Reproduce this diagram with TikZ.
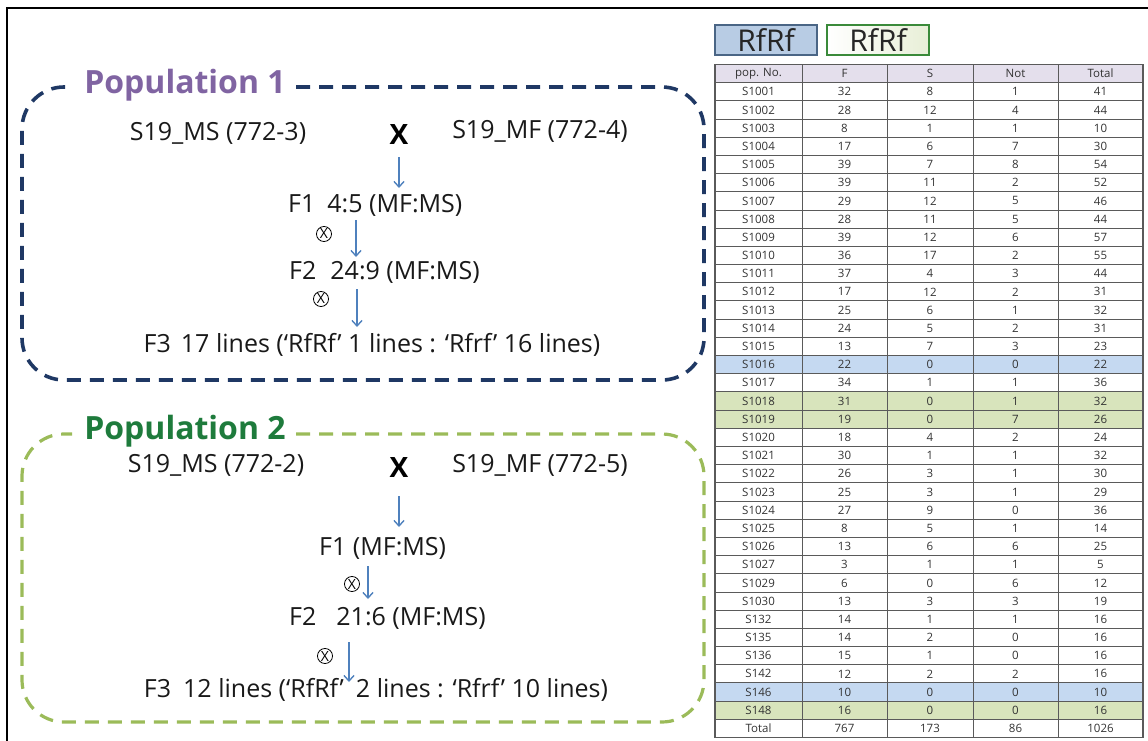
\documentclass[tikz,border=0pt]{standalone}
\usepackage{fontspec}
\setmainfont{Open Sans}
\usetikzlibrary{arrows.meta,calc}
\definecolor{navy}{HTML}{1F3864}
\definecolor{olive}{HTML}{9BBB59}
\definecolor{purp}{HTML}{8064A2}
\definecolor{dgreen}{HTML}{1E7B3C}
\definecolor{arrblue}{HTML}{4F81BD}
\definecolor{hdrfill}{HTML}{E4DFEC}
\definecolor{bluerow}{HTML}{C5D9F1}
\definecolor{greenrow}{HTML}{D8E4BC}
\definecolor{legblue}{HTML}{B8CCE4}
\definecolor{legblueb}{HTML}{4A6585}
\definecolor{leggreenb}{HTML}{3A8A3A}
\definecolor{gridc}{HTML}{5A5A5A}
\definecolor{celltxt}{HTML}{333333}
\begin{document}
\begin{tikzpicture}[x=1pt,y=-1pt,
  txt/.style={inner sep=0pt,text=black!90,font=\fontsize{25}{28}\selectfont},
  bigx/.style={inner sep=0pt,font=\fontsize{28}{30}\selectfont\bfseries},
  ttl/.style={inner sep=0pt,font=\fontsize{32}{34}\selectfont\bfseries},
  selfing/.style={circle,draw,line width=0.8pt,inner sep=0.8pt,font=\fontsize{14}{14}\selectfont\rmfamily},
  arr/.style={draw=arrblue,line width=1.4pt,-{Straight Barb[length=5.5pt,width=10pt,line width=1.4pt]}},
  box1/.style={draw=navy,line width=3.6pt,dash pattern=on 14pt off 9pt,rounded corners=42pt},
  box2/.style={draw=olive,line width=3.2pt,dash pattern=on 14pt off 9pt,rounded corners=42pt},
  cell/.style={inner sep=0pt,text=celltxt,font=\fontsize{11.5}{12}\selectfont},
  legend/.style={minimum width=102pt,minimum height=30pt,line width=1.8pt,inner sep=0pt,font=\fontsize{30}{30}\selectfont,text=black!85}
]
\useasboundingbox (0,0) rectangle (1148,741);
% outer frame
\draw[line width=1.8pt] (7,741) -- (7,8) -- (1148,8);

% ---------- Population 1 ----------
\draw[box1] (296,87) -- (704,87) -- (704,380) -- (22,380) -- (22,87) -- (70,87);
\node[ttl,text=purp] (t1) at (185,85) {Population 1};
\node[txt] (p1ms) at (218,133) {S19\_MS (772-3)};
\node[bigx] (p1x) at (399,135) {X};
\node[txt] (p1mf) at (540,131) {S19\_MF (772-4)};
\node[txt,anchor=west] (p1f1) at (288,205) {F1\hspace{12pt}4:5 (MF:MS)};
\node[txt,anchor=west] (p1f2) at (289,272) {F2\hspace{14pt}24:9 (MF:MS)};
\node[txt] (p1f3) at (372,345) {F3\hspace{10pt}17 lines (‘RfRf’ 1 lines : ‘Rfrf’ 16 lines)};
\node[selfing] (p1s1) at (324,234) {X};
\node[selfing] (p1s2) at (321,299) {X};
\coordinate (p1a1s) at (399,157);
\coordinate (p1a1e) at (399,188);
\coordinate (p1a2s) at (356,220);
\coordinate (p1a2e) at (356,257);
\coordinate (p1a3s) at (357,289);
\coordinate (p1a3e) at (357,327);
\draw[arr] (p1a1s) -- (p1a1e);
\draw[arr] (p1a2s) -- (p1a2e);
\draw[arr] (p1a3s) -- (p1a3e);

% ---------- Population 2 ----------
\draw[box2] (296,434) -- (704,434) -- (704,722) -- (22,722) -- (22,434) -- (72,434);
\node[ttl,text=dgreen] (t2) at (185,431) {Population 2};
\node[txt] (p2ms) at (216,465) {S19\_MS (772-2)};
\node[bigx] (p2x) at (399,468) {X};
\node[txt] (p2mf) at (540,465) {S19\_MF (772-5)};
\node[txt,anchor=west] (p2f1) at (319,548) {F1 (MF:MS)};
\node[txt,anchor=west] (p2f2) at (289,618) {F2\hspace{20pt}21:6 (MF:MS)};
\node[txt] (p2f3) at (376,690) {F3\hspace{12pt}12 lines (‘RfRf’\hspace{12pt}2 lines : ‘Rfrf’ 10 lines)};
\node[selfing] (p2s1) at (352,584) {X};
\node[selfing] (p2s2) at (325,656) {X};
\coordinate (p2a1s) at (399,496);
\coordinate (p2a1e) at (399,527);
\coordinate (p2a2s) at (368,566);
\coordinate (p2a2e) at (368,599);
\coordinate (p2a3s) at (349,642);
\coordinate (p2a3e) at (349,682);
\draw[arr] (p2a1s) -- (p2a1e);
\draw[arr] (p2a2s) -- (p2a2e);
\draw[arr] (p2a3s) -- (p2a3e);

% ---------- Legend ----------
\node[legend,draw=legblueb,fill=legblue] (lg1) at (766,40) {RfRf};
\node[legend,draw=leggreenb,left color=white,right color=greenrow!60] (lg2) at (878,40) {RfRf};

% ---------- Table ----------
\def\ty{64.5}\def\rh{18.19}
\fill[hdrfill] (715,\ty) rectangle (1143,\ty+\rh);
\foreach \r/\c in {16/bluerow,18/greenrow,19/greenrow,34/bluerow,35/greenrow}
  \fill[\c] (715,{\ty+\r*\rh}) rectangle (1143,{\ty+(\r+1)*\rh});
\foreach \h/\xc [count=\k] in {pop. No./758.5,F/844.5,S/930,Not/1015.5,Total/1100.5}
  \node[cell] (h\k) at (\xc,{\ty+0.5*\rh}) {\h};
\foreach \n/\f/\s/\o/\t [count=\i] in {
 S1001/32/8/1/41, S1002/28/12/4/44, S1003/8/1/1/10, S1004/17/6/7/30,
 S1005/39/7/8/54, S1006/39/11/2/52, S1007/29/12/5/46, S1008/28/11/5/44,
 S1009/39/12/6/57, S1010/36/17/2/55, S1011/37/4/3/44, S1012/17/12/2/31,
 S1013/25/6/1/32, S1014/24/5/2/31, S1015/13/7/3/23, S1016/22/0/0/22,
 S1017/34/1/1/36, S1018/31/0/1/32, S1019/19/0/7/26, S1020/18/4/2/24,
 S1021/30/1/1/32, S1022/26/3/1/30, S1023/25/3/1/29, S1024/27/9/0/36,
 S1025/8/5/1/14, S1026/13/6/6/25, S1027/3/1/1/5, S1029/6/0/6/12,
 S1030/13/3/3/19, S132/14/1/1/16, S135/14/2/0/16, S136/15/1/0/16,
 S142/12/2/2/16, S146/10/0/0/10, S148/16/0/0/16, Total/767/173/86/1026}
{
  \node[cell] (r\i c1) at (758.5,{\ty+(\i+0.5)*\rh}) {\n};
  \node[cell] (r\i c2) at (844.5,{\ty+(\i+0.5)*\rh}) {\f};
  \node[cell] (r\i c3) at (930,{\ty+(\i+0.5)*\rh}) {\s};
  \node[cell] (r\i c4) at (1015.5,{\ty+(\i+0.5)*\rh}) {\o};
  \node[cell] (r\i c5) at (1100.5,{\ty+(\i+0.5)*\rh}) {\t};
}
\foreach \r in {1,...,36}
  \draw[gridc,line width=1pt] (715,{\ty+\r*\rh}) -- (1143,{\ty+\r*\rh});
\foreach \xx in {802,887,973,1058}
  \draw[gridc,line width=1pt] (\xx,\ty) -- (\xx,{\ty+37*\rh});
\draw[gridc,line width=1.4pt] (715,\ty) rectangle (1143,{\ty+37*\rh});
\end{tikzpicture}
\end{document}
